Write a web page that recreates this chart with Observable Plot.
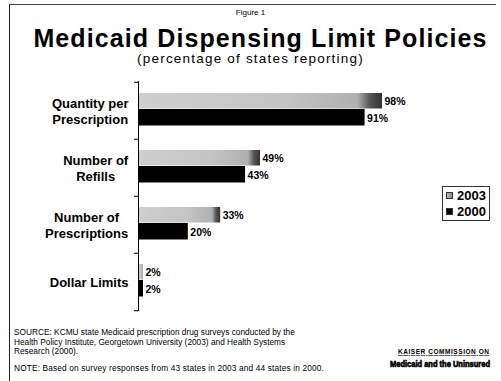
<!DOCTYPE html>
<html>
<head>
<meta charset="utf-8">
<script src="https://cdn.jsdelivr.net/npm/d3@7"></script>
<script src="https://cdn.jsdelivr.net/npm/@observablehq/plot@0.6"></script>
<style>
  html, body { margin: 0; padding: 0; background: #fff; }
  body { width: 501px; height: 381px; position: relative; overflow: hidden; font-family: "Liberation Sans", Arial, sans-serif; color: #000; }
  .abs { position: absolute; }
  #frame { left: 9px; top: 4px; width: 486px; height: 390px; border-left: 1px solid #222; border-top: 1px solid #444; }
  #fig { left: 0; width: 501px; top: 8px; height: 9px; line-height: 9px; text-align: center; font-size: 8px; }
  #title { left: 10px; width: 501px; top: 26px; height: 24px; line-height: 24px; text-align: center; font-size: 25px; font-weight: bold; letter-spacing: 1.1px; }
  #subtitle { left: 0; width: 501px; top: 52px; height: 14px; line-height: 14px; text-align: center; font-size: 13.5px; letter-spacing: 1.2px; }
  #chart { left: 0; top: 78px; }
  #legend { left: 442px; top: 186px; width: 46px; height: 33px; border: 1px solid #333; font-size: 13px; font-weight: bold; }
  .li { position: absolute; left: 3px; height: 14px; line-height: 14px; white-space: nowrap; }
  .sw { display: inline-block; width: 7px; height: 7px; margin-right: 4px; vertical-align: 1px; }
  #foot { left: 14px; top: 328px; font-size: 8.3px; line-height: 9.5px; width: 320px; white-space: nowrap; }
  #note { left: 14px; top: 363px; font-size: 8.3px; letter-spacing: 0.15px; white-space: nowrap; }
</style>
</head>
<body>
<div id="frame" class="abs"></div>
<div id="fig" class="abs">Figure 1</div>
<div id="title" class="abs">Medicaid Dispensing Limit Policies</div>
<div id="subtitle" class="abs">(percentage of states reporting)</div>
<div id="chart" class="abs"></div>
<div id="legend" class="abs"></div>
<div id="foot" class="abs">SOURCE: KCMU state Medicaid prescription drug surveys conducted by the<br>Health Policy Institute, Georgetown University (2003) and Health Systems<br>Research (2000).</div>
<div id="note" class="abs">NOTE: Based on survey responses from 43 states in 2003 and 44 states in 2000.</div>
<svg id="logo" class="abs" style="left:384px;top:346px;overflow:visible" width="114" height="26">
  <text x="14" y="8" font-size="6.5" font-weight="bold" textLength="91" lengthAdjust="spacing" text-decoration="underline" font-family="Liberation Sans, Arial">KAISER COMMISSION ON</text>
  <text x="6" y="17.5" font-size="7.5" textLength="100" lengthAdjust="spacingAndGlyphs" font-family="Liberation Sans, Arial" font-weight="bold" stroke="#000" stroke-width="0.55" transform="scale(1,1.18)">Medicaid and the Uninsured</text>
</svg>
<script>
const categories = ["Quantity per\nPrescription", "Number of\nRefills", "Number of\nPrescriptions", "Dollar Limits"];
const series = ["2003", "2000"];
const values2003 = [98, 49, 33, 2];
const values2000 = [91, 43, 20, 2];

const d2003 = categories.map((c, i) => ({category: c, value: values2003[i]}));
const d2000 = categories.map((c, i) => ({category: c, value: values2000[i]}));
const fmt = d => d.value + "%";
const band = 57.5;

const chart = Plot.plot({
  width: 501,
  height: 236,
  marginLeft: 138,
  marginRight: 114,
  marginTop: 3,
  marginBottom: 3,
  style: {fontFamily: "Liberation Sans, Arial, sans-serif", background: "transparent"},
  x: {domain: [0, 100], axis: null},
  y: {domain: categories, padding: 0, axis: null},
  marks: [
    Plot.barX(d2003, {x: "value", y: "category", fill: "url(#g2003)", insetTop: 11, insetBottom: band - 27}),
    Plot.barX(d2000, {x: "value", y: "category", fill: "#000", insetTop: 27, insetBottom: band - 44}),
    Plot.text(d2003, {x: "value", y: "category", text: fmt, textAnchor: "start", dx: 2, dy: -9.75, fontSize: 10.5, fontWeight: "bold", fill: "#000"}),
    Plot.text(d2000, {x: "value", y: "category", text: fmt, textAnchor: "start", dx: 2, dy: 7.5, fontSize: 10.5, fontWeight: "bold", fill: "#000"}),
    Plot.ruleX([0], {stroke: "#000", strokeWidth: 1}),
    Plot.ruleY(categories, {y: d => d, x1: -1.6, x2: 0, dy: -band / 2, stroke: "#000"}),
    Plot.ruleY(categories.slice(-1), {y: d => d, x1: -1.6, x2: 0, dy: band / 2, stroke: "#000"}),
    Plot.text(categories, {y: d => d, x: 0, text: d => d, textAnchor: "end", dx: -10, fontSize: 13, fontWeight: "bold", lineHeight: 1.22, fill: "#000", className: "catlab"})
  ]
});

const defs = document.createElementNS("http://www.w3.org/2000/svg", "defs");
defs.innerHTML = `<linearGradient id="g2003" x1="0" x2="1" y1="0" y2="0">
  <stop offset="0" stop-color="#cfcfcf"/>
  <stop offset="0.6" stop-color="#c4c4c4"/>
  <stop offset="0.9" stop-color="#b0b0b0"/>
  <stop offset="0.95" stop-color="#555"/>
  <stop offset="1" stop-color="#333"/>
</linearGradient>`;
chart.insertBefore(defs, chart.firstChild);
document.getElementById("chart").appendChild(chart);

// center-align multi-line category labels, keeping right edge in place
chart.querySelectorAll(".catlab text").forEach(t => {
  const w = t.getBBox().width;
  const tr = t.getAttribute("transform") || "";
  t.setAttribute("text-anchor", "middle");
  t.setAttribute("transform", tr + ` translate(${-w / 2},0)`);
});

const legend = document.getElementById("legend");
const swFill = {"2003": "linear-gradient(90deg,#bbb,#888)", "2000": "#000"};
series.forEach((s, i) => {
  const el = document.createElement("div");
  el.className = "li";
  el.style.top = (2 + i * 16) + "px";
  el.innerHTML = `<span class="sw" style="background:${swFill[s]};border:1px solid #333;box-sizing:border-box"></span>${s}`;
  legend.appendChild(el);
});
</script>
</body>
</html>
